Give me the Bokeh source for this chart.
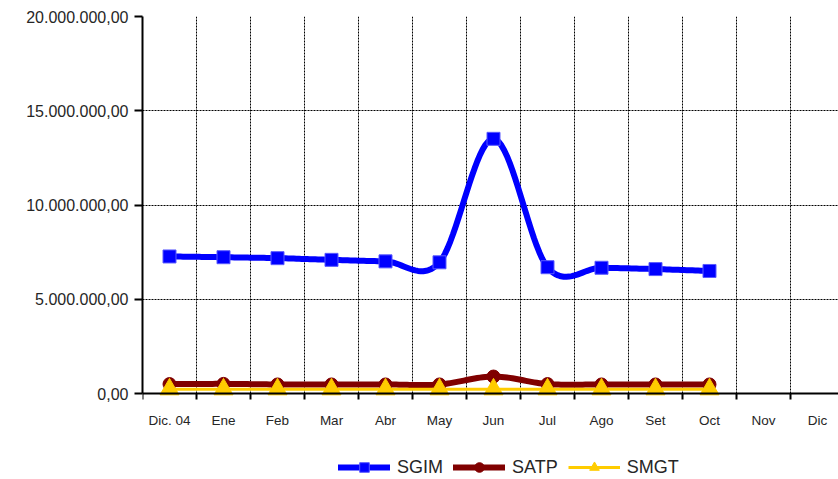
import numpy as np
from bokeh.plotting import figure
from bokeh.models import Range1d, FixedTicker, Legend, LegendItem
from bokeh.embed import file_html
from bokeh.resources import INLINE

# ---- data ----
months = ["Dic. 04", "Ene", "Feb", "Mar", "Abr", "May", "Jun",
          "Jul", "Ago", "Set", "Oct", "Nov", "Dic"]
sgim = [7270000, 7230000, 7180000, 7090000, 7010000, 6960000, 13510000,
        6700000, 6670000, 6600000, 6500000]
satp = [500000, 510000, 480000, 480000, 480000, 480000, 900000,
        500000, 480000, 480000, 480000]
smgt = [220000, 220000, 220000, 220000, 220000, 220000, 220000,
        220000, 220000, 220000, 220000]
y_ticks = [0, 5000000, 10000000, 15000000, 20000000]
y_tick_labels = ["0,00", "5.000.000,00", "10.000.000,00",
                 "15.000.000,00", "20.000.000,00"]

FONT = "Liberation Sans"
TXT = "#262626"

# layout constants (pixels)
W, H = 838, 479
LEFT, TOP = 142, 16
PLOT_H = 377          # height from 0 to the top tick
CAT_W = 54            # width of one month slot


def smooth(xs, ys, n=20):
    """Catmull-Rom style smoothed rendering of a line through the data points."""
    xs = np.asarray(xs, float)
    ys = np.asarray(ys, float)
    k = len(ys)
    out_x, out_y = [], []
    for i in range(k - 1):
        p0 = ys[i - 1] if i > 0 else ys[i]
        p1, p2 = ys[i], ys[i + 1]
        p3 = ys[i + 2] if i + 2 < k else ys[i + 1]
        m1 = (p2 - p0) / 2.0 if i > 0 else (p2 - p1)
        m2 = (p3 - p1) / 2.0 if i + 2 < k else (p2 - p1)
        t = np.linspace(0, 1, n, endpoint=(i == k - 2))
        h00 = 2 * t**3 - 3 * t**2 + 1
        h10 = t**3 - 2 * t**2 + t
        h01 = -2 * t**3 + 3 * t**2
        h11 = t**3 - t**2
        out_y.extend(h00 * p1 + h10 * m1 + h01 * p2 + h11 * m2)
        out_x.extend(xs[i] + t * (xs[i + 1] - xs[i]))
    return out_x, out_y


centers = [i + 0.5 for i in range(len(months))]
bounds = list(range(len(months) + 1))
xs = centers[:len(sgim)]
ymax = y_ticks[-1]
frame_h = H - TOP
ymin = -ymax * (frame_h - PLOT_H) / PLOT_H

p = figure(width=W, height=H, output_backend="svg", toolbar_location=None,
           x_range=Range1d(0, (W - LEFT) / CAT_W), y_range=Range1d(ymin, ymax),
           min_border_left=LEFT, min_border_right=0, min_border_top=TOP,
           min_border_bottom=0)
p.outline_line_color = None
p.background_fill_color = "white"
p.border_fill_color = "white"

# x axis drawn at value 0
xa = p.xaxis[0]
xa.fixed_location = 0
xa.ticker = FixedTicker(ticks=centers, minor_ticks=bounds)
xa.major_label_overrides = {c: m for c, m in zip(centers, months)}
xa.axis_line_color = "black"
xa.axis_line_width = 2
xa.major_tick_out = 0
xa.major_tick_in = 0
xa.minor_tick_out = 6
xa.minor_tick_in = 0
xa.minor_tick_line_color = "black"
xa.minor_tick_line_width = 2
xa.major_label_standoff = 13
xa.major_label_text_font = FONT
xa.major_label_text_font_size = "13.5px"
xa.major_label_text_color = TXT

ya = p.yaxis[0]
ya.bounds = (y_ticks[0], ymax)
ya.ticker = FixedTicker(ticks=y_ticks, minor_ticks=[])
ya.major_label_overrides = {t: l for t, l in zip(y_ticks, y_tick_labels)}
ya.axis_line_color = "black"
ya.axis_line_width = 2
ya.major_tick_out = 8
ya.major_tick_in = 0
ya.major_tick_line_color = "black"
ya.major_tick_line_width = 2
ya.minor_tick_out = 0
ya.minor_tick_in = 0
ya.major_label_standoff = 6
ya.major_label_text_font = FONT
ya.major_label_text_font_size = "16px"
ya.major_label_text_color = TXT

# grids: horizontal from the grid, vertical month separators from 0 to the top tick
p.xgrid.visible = False
p.ygrid.ticker = FixedTicker(ticks=y_ticks)
p.ygrid.grid_line_color = "black"
p.ygrid.grid_line_dash = "2 1"
p.ygrid.grid_line_width = 1
p.segment(x0=bounds[1:], y0=[y_ticks[0]] * (len(bounds) - 1),
          x1=bounds[1:], y1=[ymax] * (len(bounds) - 1),
          line_color="black", line_dash="2 1", line_width=1)

# series
sx, sy = smooth(xs, sgim)
l1 = p.line(sx, sy, line_color="#0000FF", line_width=6, line_join="round", line_cap="round")
m1 = p.scatter(xs, sgim, marker="square", size=13, fill_color="#0000FF",
               line_color="#5a5aff", line_width=1)

ax_, ay_ = smooth(xs, satp)
l2 = p.line(ax_, ay_, line_color="#800000", line_width=6, line_join="round", line_cap="round")
m2 = p.scatter(xs, satp, marker="circle", size=13, fill_color="#800000",
               line_color="#800000")

gx, gy = smooth(xs, smgt)
l3 = p.line(gx, gy, line_color="#FFCC00", line_width=3)
m3 = p.scatter(xs, smgt, marker="triangle", size=19, fill_color="#FFCC00",
               line_color="#FFCC00")

legend = Legend(items=[LegendItem(label="SGIM", renderers=[l1, m1]),
                       LegendItem(label="SATP", renderers=[l2, m2]),
                       LegendItem(label="SMGT", renderers=[l3, m3])],
                location=(338 - LEFT, 0), orientation="horizontal")
legend.background_fill_alpha = 0
legend.border_line_color = None
legend.padding = 0
legend.margin = 0
legend.spacing = 10
legend.glyph_width = 52
legend.glyph_height = 24
legend.label_standoff = 7
legend.label_text_font = FONT
legend.label_text_font_size = "18px"
legend.label_text_color = TXT
p.add_layout(legend, "center")

open("out.html", "w").write(file_html(p, INLINE))
